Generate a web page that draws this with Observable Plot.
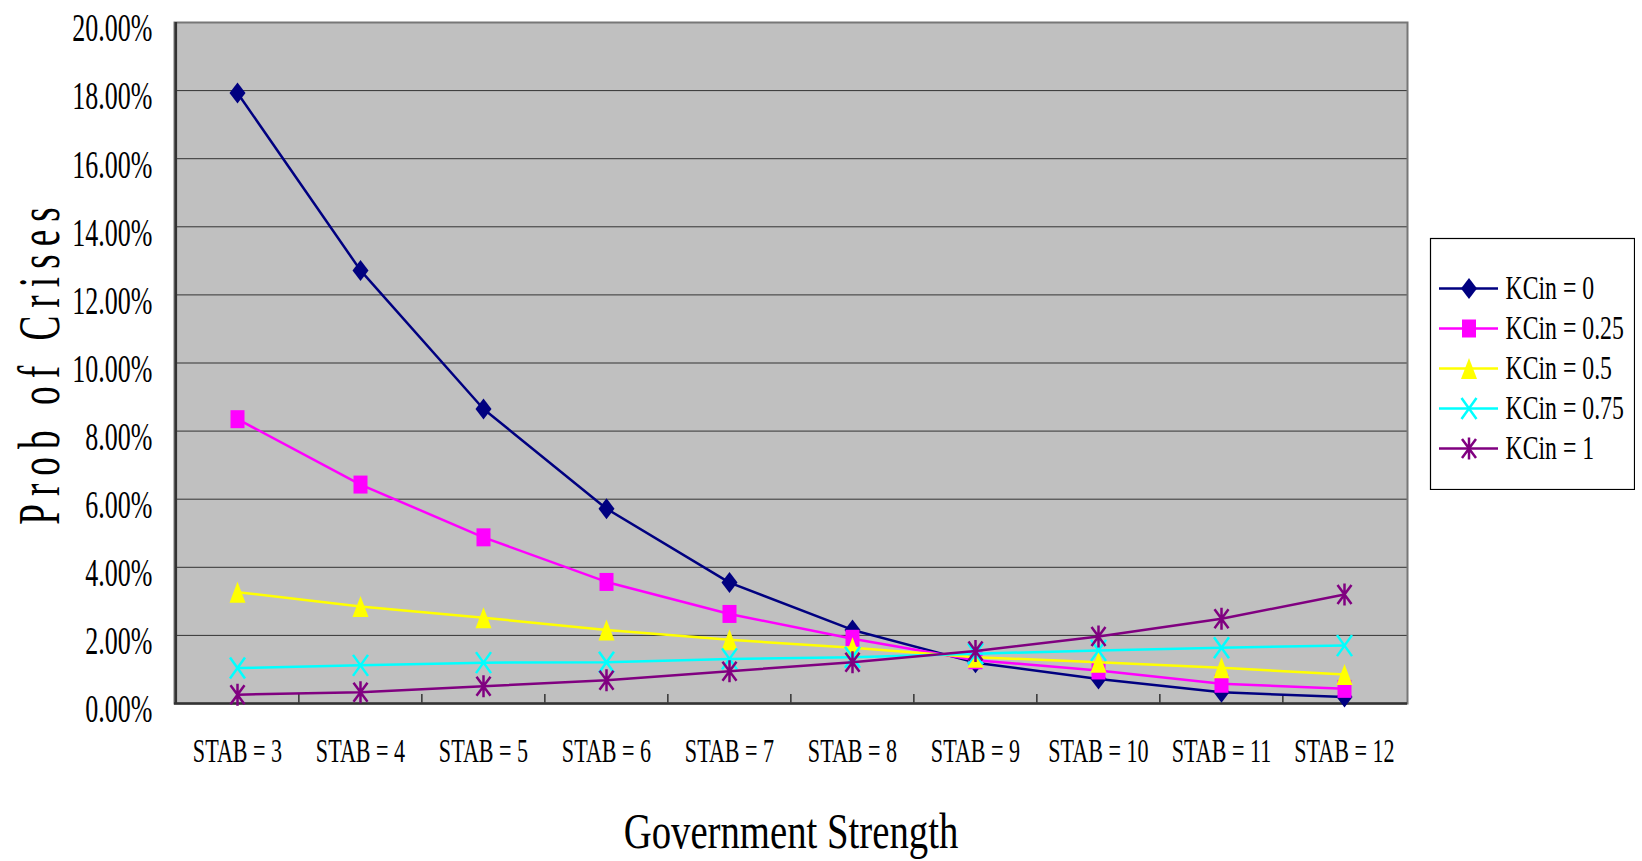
<!DOCTYPE html>
<html>
<head>
<meta charset="utf-8">
<script src="https://cdn.jsdelivr.net/npm/d3@7"></script>
<script src="https://cdn.jsdelivr.net/npm/@observablehq/plot@0.6"></script>
<style>
  html, body { margin: 0; padding: 0; background: #fff; }
  #wrap { position: relative; width: 1642px; height: 861px; overflow: hidden; }
  #legend { position: absolute; left: 1429px; top: 237px; }
</style>
</head>
<body>
<div id="wrap"><div id="chart"></div><div id="legend"></div></div>
<script>
// Categories along the x axis (government strength levels)
const categories = ["STAB = 3", "STAB = 4", "STAB = 5", "STAB = 6", "STAB = 7",
                    "STAB = 8", "STAB = 9", "STAB = 10", "STAB = 11", "STAB = 12"];

// Y axis ticks, in percent
const yTicks = [0, 2, 4, 6, 8, 10, 12, 14, 16, 18, 20];

// Probability of crises (%) for each KCin value
const kcin0   = [17.93, 12.72, 8.65, 5.72, 3.55, 2.16, 1.20, 0.72, 0.33, 0.19];
const kcin025 = [8.35, 6.43, 4.88, 3.57, 2.63, 1.90, 1.27, 0.97, 0.58, 0.43];
const kcin05  = [3.27, 2.85, 2.52, 2.16, 1.87, 1.64, 1.36, 1.21, 1.05, 0.85];
const kcin075 = [1.04, 1.12, 1.20, 1.21, 1.31, 1.36, 1.46, 1.56, 1.64, 1.70];
const kcin1   = [0.26, 0.33, 0.51, 0.68, 0.95, 1.21, 1.54, 1.97, 2.49, 3.20];

const seriesNames  = ["KCin = 0", "KCin = 0.25", "KCin = 0.5", "KCin = 0.75", "KCin = 1"];
const seriesValues = [kcin0, kcin025, kcin05, kcin075, kcin1];

// Marker shapes
const diamond  = {draw(c) { c.moveTo(0, -10.5); c.lineTo(8, 0); c.lineTo(0, 10.5); c.lineTo(-8, 0); c.closePath(); }};
const square   = {draw(c) { c.rect(-7, -9, 14, 18); }};
const triangle = {draw(c) { c.moveTo(0, -10.5); c.lineTo(8, 10.5); c.lineTo(-8, 10.5); c.closePath(); }};
const cross    = {draw(c) { c.moveTo(-7.5, -10.5); c.lineTo(7.5, 10.5); c.moveTo(7.5, -10.5); c.lineTo(-7.5, 10.5); }};
const star     = {draw(c) { c.moveTo(-7, -9.5); c.lineTo(7, 9.5); c.moveTo(7, -9.5); c.lineTo(-7, 9.5); c.moveTo(0, -11); c.lineTo(0, 11); }};

const seriesStyles = [
  {color: "#000080", symbol: diamond,  filled: true},
  {color: "#FF00FF", symbol: square,   filled: true},
  {color: "#FFFF00", symbol: triangle, filled: true},
  {color: "#00FFFF", symbol: cross,    filled: false},
  {color: "#800080", symbol: star,     filled: false}
];

const rows = seriesNames.flatMap((name, s) =>
  seriesValues[s].map((v, i) => ({series: name, cat: categories[i], v})));

const FONT = "'Liberation Serif', 'Times New Roman', serif";
const W = 1642, H = 861, mL = 174, mR = 235, mT = 22, mB = 158;
const step = (W - mL - mR) / categories.length;
const pxPerUnit = (H - mT - mB) / 20;

// Squeeze text horizontally about its anchor point
function condense(sel, s) {
  sel.each(function () {
    const t = d3.select(this);
    const x = +(t.attr("x") || 0);
    const prev = t.attr("transform") || "";
    t.attr("transform", `${prev} translate(${x},0) scale(${s},1) translate(${-x},0)`);
  });
}

const seriesMarks = seriesNames.flatMap((name, s) => {
  const st = seriesStyles[s];
  const data = rows.filter(r => r.series === name);
  return [
    Plot.line(data, {x: "cat", y: "v", stroke: st.color, strokeWidth: 2.5}),
    Plot.dot(data, {
      x: "cat", y: "v", symbol: st.symbol,
      fill: st.filled ? st.color : "none",
      stroke: st.filled ? "none" : st.color,
      strokeWidth: 2.5
    })
  ];
});

const chart = Plot.plot({
  width: W, height: H,
  marginLeft: mL, marginRight: mR, marginTop: mT, marginBottom: mB,
  style: {fontFamily: FONT, background: "white", color: "black"},
  x: {type: "point", domain: categories, padding: 0.5},
  y: {domain: [0, 20]},
  marks: [
    Plot.frame({fill: "#C0C0C0", stroke: "none"}),
    Plot.ruleY(yTicks.filter(t => t > 0 && t < 20), {stroke: "#333", strokeWidth: 1}),
    Plot.ruleX(categories.slice(1), {x: d => d, dx: -step / 2, y1: 0, y2: 9 / pxPerUnit, stroke: "#333", strokeWidth: 1.5}),
    Plot.frame({stroke: "#777", strokeWidth: 2}),
    Plot.ruleY([0], {stroke: "#333", strokeWidth: 2.5}),
    Plot.ruleX([categories[0]], {dx: -step / 2, stroke: "#333", strokeWidth: 2.5}),
    ...seriesMarks,
    Plot.axisX({tickSize: 0, tickPadding: 35, fontSize: 33, label: null}),
    Plot.axisY({ticks: yTicks, tickSize: 0, tickPadding: 22, dy: 6, fontSize: 40,
                tickFormat: d => d.toFixed(2) + "%", label: null}),
    Plot.text(["Government Strength"], {frameAnchor: "bottom", dy: 144, lineAnchor: "bottom",
                text: d => d, fontSize: 51, ariaDescription: "x-title"}),
    Plot.text(["Prob of Crises"], {frameAnchor: "left", dx: -116, dy: -1, rotate: -90,
                textAnchor: "middle", lineAnchor: "bottom",
                text: d => d, fontSize: 60, ariaDescription: "y-title"})
  ]
});
document.getElementById("chart").append(chart);

const svg = d3.select(chart);
condense(svg.selectAll('g[aria-label="y-axis tick label"] text'), 0.65);
condense(svg.selectAll('g[aria-label="x-axis tick label"] text'), 0.67);
condense(svg.selectAll('g[aria-description="x-title"] text'), 0.76);
const yTitle = svg.selectAll('g[aria-description="y-title"] text').style("letter-spacing", "13px");
condense(yTitle, 0.62);

// Legend: line + marker swatch for each series
const legendMarks = [Plot.frame({fill: "white", stroke: "#000", strokeWidth: 1.2, inset: 1})];
seriesNames.forEach((name, s) => {
  const st = seriesStyles[s];
  legendMarks.push(
    Plot.ruleY([name], {y: d => d, x1: 0, x2: 1, stroke: st.color, strokeWidth: 2.5}),
    Plot.dot([name], {x: 0.5, y: d => d, symbol: st.symbol,
      fill: st.filled ? st.color : "none", stroke: st.filled ? "none" : st.color, strokeWidth: 2.5}),
    Plot.text([name], {x: 1, dx: 7, y: d => d, text: d => d, textAnchor: "start",
      fontSize: 33, ariaDescription: "legend-label"})
  );
});
const legend = Plot.plot({
  width: 206, height: 253, margin: 0,
  style: {fontFamily: FONT, background: "transparent", color: "black"},
  x: {domain: [0, 1], range: [10, 69], axis: null},
  y: {type: "point", domain: seriesNames, range: [31, 231], axis: null},
  marks: legendMarks
});
document.getElementById("legend").append(legend);
condense(d3.select(legend).selectAll('g[aria-description="legend-label"] text'), 0.72);
</script>
</body>
</html>
